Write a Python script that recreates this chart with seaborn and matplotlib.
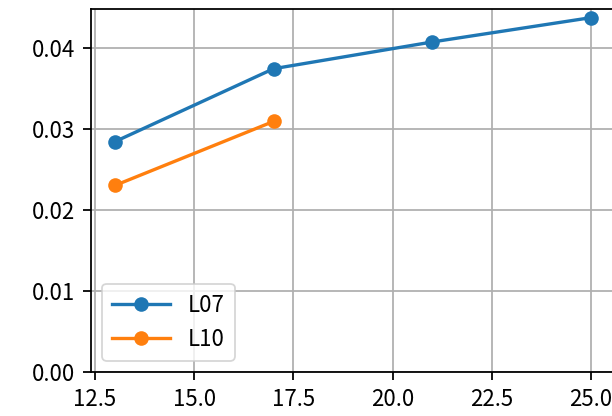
import matplotlib
matplotlib.use("Agg")
import matplotlib.pyplot as plt
import matplotlib.ticker as mticker
import seaborn as sns
import pandas as pd

x_L07 = [13, 17, 21, 25]
y_L07 = [0.0284, 0.0374, 0.0407, 0.0437]
x_L10 = [13, 17]
y_L10 = [0.0230, 0.0309]
series_names = ["L07", "L10"]

df = pd.DataFrame({
    "x": x_L07 + x_L10,
    "y": y_L07 + y_L10,
    "series": [series_names[0]] * len(x_L07) + [series_names[1]] * len(x_L10),
})

plt.rcParams['font.family'] = ['Noto Sans CJK SC', 'DejaVu Sans']
plt.rcParams['font.size'] = 16
s = 1.6

fig = plt.figure(figsize=(6.12, 4.16), dpi=100)
ax = fig.add_axes([0.1487, 0.1058, 0.856, 0.872])
sns.lineplot(data=df, x="x", y="y", hue="series", marker="o", markersize=10.5,
             markeredgewidth=0, linewidth=2.4, palette=["#1f77b4", "#ff7f0e"],
             ax=ax, sort=False)
ax.set_ylim(bottom=0)
ax.set_xlabel("")
ax.set_ylabel("")
ax.xaxis.set_major_locator(mticker.MultipleLocator(2.5))
ax.xaxis.set_major_formatter(mticker.FormatStrFormatter("%.1f"))
ax.yaxis.set_major_locator(mticker.MultipleLocator(0.01))
ax.yaxis.set_major_formatter(mticker.FormatStrFormatter("%.2f"))
ax.grid(True, color="#b0b0b0", linewidth=0.8 * s)
ax.set_axisbelow(True)
for sp in ax.spines.values():
    sp.set_linewidth(0.8 * s)
ax.tick_params(labelsize=16, length=3.5 * s, width=0.8 * s, pad=3.5 * s)
leg = ax.legend(loc="lower left", fontsize=16, handlelength=2.6,
                borderaxespad=0.5, borderpad=0.45)
leg.get_frame().set_linewidth(0.8 * s)
fig.savefig("out.png", dpi=100)
